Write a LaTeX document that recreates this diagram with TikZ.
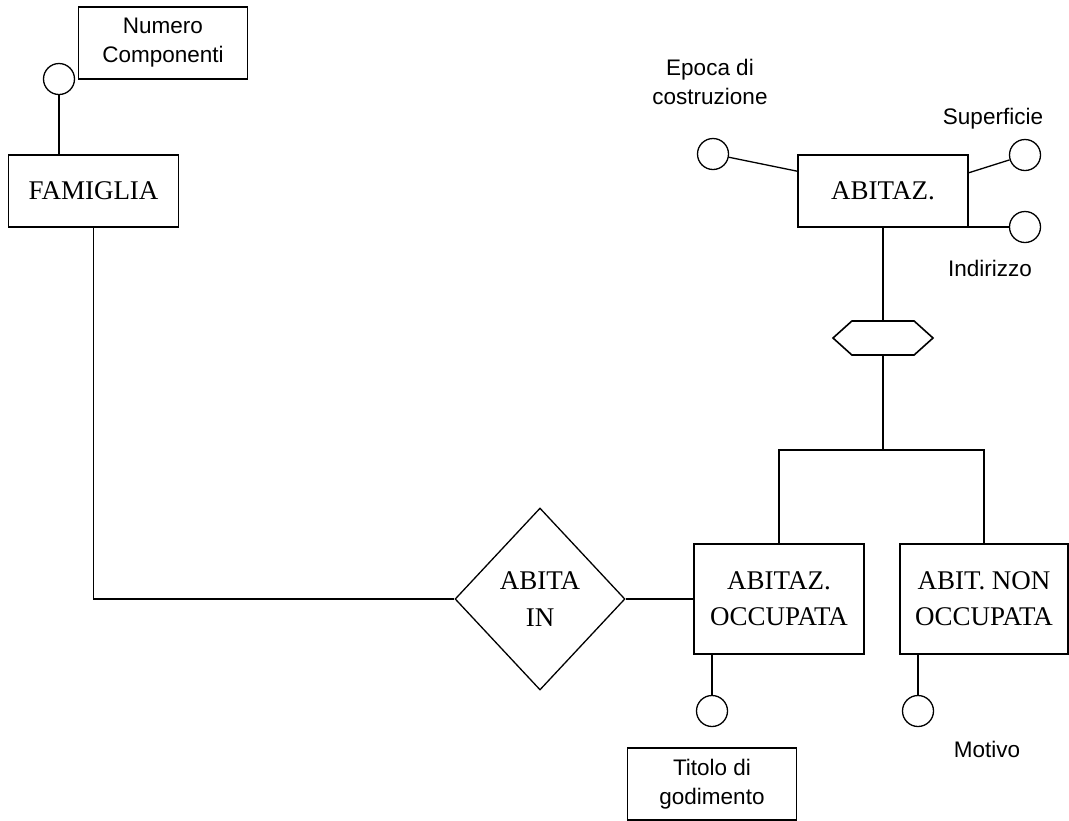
\documentclass[tikz,border=0pt]{standalone}
\usepackage{fontspec}
\setmainfont{Liberation Serif}
\newfontfamily\labelfont{Liberation Sans}
\usetikzlibrary{shapes.geometric,shapes.symbols}

\begin{document}
\begin{tikzpicture}[
    x=1pt, y=-1pt,
    line width=1.3pt,
    entity/.style={draw, line width=1.6pt, minimum width=170, minimum height=72,
        inner sep=2pt, align=center, font=\fontsize{27}{36}\selectfont},
    relation/.style={draw, diamond, minimum width=170, minimum height=182,
        inner sep=0pt, align=center, font=\fontsize{27}{37}\selectfont},
    attr/.style={draw, circle, minimum size=31, inner sep=0pt},
    attrlabel/.style={align=center, font=\labelfont\fontsize{22.5}{29}\selectfont},
    notebox/.style={draw, attrlabel, minimum width=169, minimum height=72},
    isabox/.style={draw, line width=1.6pt, signal, signal to=east and west,
        signal pointer angle=84, minimum width=100, minimum height=34, inner sep=0pt}
]
\useasboundingbox (0,0) rectangle (1069,820);

% Entities
\node[entity] (famiglia) at (93.5,191) {FAMIGLIA};
\node[entity] (abitaz) at (883,191) {ABITAZ.};
\node[entity, minimum height=110] (occ) at (779,599) {ABITAZ.\\OCCUPATA};
\node[entity, minimum height=110, minimum width=168] (nonocc) at (984,599) {ABIT. NON\\OCCUPATA};

% Relationship
\node[relation] (abitain) at (540,599) {ABITA\\IN};

% Generalization
\node[isabox] (isa) at (883,338) {};
\coordinate (fork) at (883,450);

% Attributes
\node[attr] (numcomp) at (59,79) {};
\node[attr] (epoca) at (713,154) {};
\node[attr] (superf) at (1025,155) {};
\node[attr] (indir) at (1025,227) {};
\node[attr] (titolo) at (712,711) {};
\node[attr] (motivo) at (918,711) {};

% Attribute labels
\node[notebox] (numlbl) at (163,43) {Numero\\Componenti};
\node[attrlabel] (epocalbl) at (710,82) {Epoca di\\costruzione};
\node[attrlabel] (superflbl) at (993,119) {Superficie};
\node[attrlabel] (indirlbl) at (990,268) {Indirizzo};
\node[notebox] (titololbl) at (712,784) {Titolo di\\godimento};
\node[attrlabel] (motivolbl) at (987,749) {Motivo};

% Connectors
\draw (numcomp.south) -- (numcomp.south |- famiglia.north);
\draw (famiglia.south) |- (abitain.west);
\draw (abitain.east) -- (occ.west);
\draw (abitaz.south) -- (isa.north);
\draw (isa.south) -- (fork);
\draw (occ.north) |- (fork) -| (nonocc.north);
\draw (epoca) -- (abitaz.167);
\draw (abitaz.12) -- (superf);
\draw (indir.west) -- (indir.west -| abitaz.east);
\draw (titolo.north) -- (titolo.north |- occ.south);
\draw (motivo.north) -- (motivo.north |- nonocc.south);

\end{tikzpicture}
\end{document}
